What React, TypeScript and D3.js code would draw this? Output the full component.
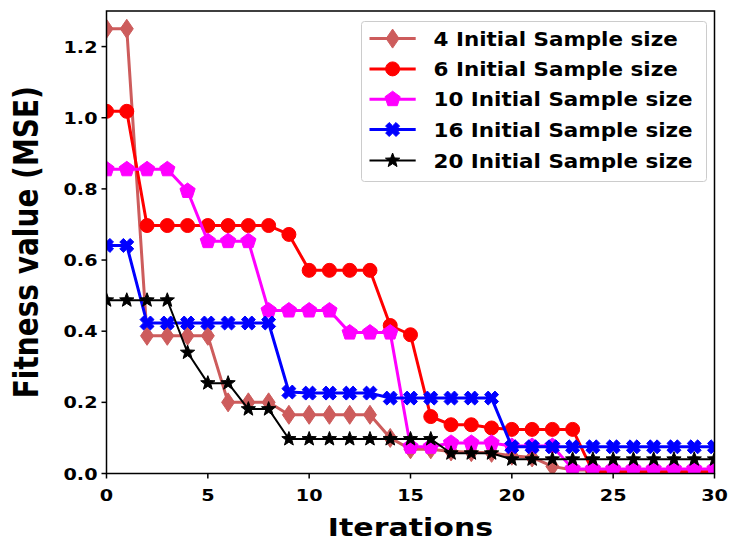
import React from "react";
import * as d3 from "d3";

const iterations = d3.range(0, 31);
const labels = [
  "4 Initial Sample size",
  "6 Initial Sample size",
  "10 Initial Sample size",
  "16 Initial Sample size",
  "20 Initial Sample size",
];
const s4 = [1.25, 1.25, 0.387, 0.387, 0.387, 0.387, 0.2, 0.2, 0.2, 0.165, 0.165, 0.165, 0.165, 0.165, 0.1, 0.068, 0.068, 0.062, 0.06, 0.058, 0.05, 0.045, 0.02, 0.01, 0.01, 0.01, 0.01, 0.01, 0.01, 0.01, 0.01];
const s6 = [1.018, 1.018, 0.697, 0.697, 0.697, 0.697, 0.697, 0.697, 0.697, 0.672, 0.571, 0.571, 0.571, 0.571, 0.416, 0.39, 0.16, 0.137, 0.137, 0.128, 0.124, 0.124, 0.124, 0.124, 0.005, 0.005, 0.005, 0.005, 0.005, 0.005, 0.005];
const s10 = [0.855, 0.855, 0.855, 0.855, 0.794, 0.653, 0.653, 0.653, 0.458, 0.458, 0.458, 0.458, 0.396, 0.396, 0.396, 0.075, 0.075, 0.086, 0.086, 0.086, 0.077, 0.077, 0.077, 0.013, 0.013, 0.013, 0.013, 0.013, 0.013, 0.013, 0.013];
const s16 = [0.641, 0.641, 0.423, 0.423, 0.423, 0.423, 0.423, 0.423, 0.423, 0.229, 0.226, 0.226, 0.226, 0.226, 0.212, 0.212, 0.212, 0.212, 0.212, 0.212, 0.075, 0.075, 0.075, 0.075, 0.075, 0.075, 0.075, 0.075, 0.075, 0.075, 0.075];
const s20 = [0.487, 0.487, 0.487, 0.487, 0.34, 0.254, 0.254, 0.181, 0.181, 0.097, 0.097, 0.097, 0.097, 0.097, 0.097, 0.097, 0.097, 0.057, 0.057, 0.057, 0.04, 0.04, 0.04, 0.04, 0.04, 0.04, 0.04, 0.04, 0.04, 0.04, 0.04];
const xTicks = [0, 5, 10, 15, 20, 25, 30];
const yTicks = [0.0, 0.2, 0.4, 0.6, 0.8, 1.0, 1.2];

const seriesValues = [s4, s6, s10, s16, s20];
const colors = ["#CD5C5C", "#FF0000", "#FF00FF", "#0000FF", "#000000"];
const markerKinds = ["thin_diamond", "circle", "pentagon", "xfilled", "star"];
const lineWidths = [3, 3, 3, 3, 2];

const W = 730;
const H = 546;
const left = 106.5;
const right = 714.5;
const top = 11;
const bottom = 473.5;
const SX = 1.2;
const FONT = "'DejaVu Sans', sans-serif";

function markerPath(kind: string, s: number): string {
  if (kind === "circle") {
    return d3.arc()({ innerRadius: 0, outerRadius: 7 * s, startAngle: 0, endAngle: Math.PI * 2 }) as string;
  }
  if (kind === "thin_diamond") {
    const h = 9.5 * s, w = 6.5 * s;
    return `M0,${-h}L${w},0L0,${h}L${-w},0Z`;
  }
  if (kind === "pentagon") {
    const r = 8 * s;
    const pts = d3.range(5).map((i) => {
      const a = -Math.PI / 2 + (i * 2 * Math.PI) / 5;
      return [r * Math.cos(a), r * Math.sin(a)];
    });
    return "M" + pts.map((p) => p.join(",")).join("L") + "Z";
  }
  if (kind === "xfilled") {
    const r = 7 * s, t = 3.6 * s;
    const base = [
      [0, -t], [r - t, -r], [r, -r + t], [t, 0], [r, r - t], [r - t, r], [0, t], [-r + t, r], [-r, r - t], [-t, 0], [-r, -r + t], [-r + t, -r],
    ];
    return "M" + base.map((p) => p.join(",")).join("L") + "Z";
  }
  const ro = 7.5 * s, ri = ro * 0.42;
  const pts = d3.range(10).map((i) => {
    const a = -Math.PI / 2 + (i * Math.PI) / 5;
    const r = i % 2 === 0 ? ro : ri;
    return [r * Math.cos(a), r * Math.sin(a)];
  });
  return "M" + pts.map((p) => p.join(",")).join("L") + "Z";
}

export default function App() {
  const x = d3.scaleLinear().domain([0, 30]).range([left, right]);
  const y = d3.scaleLinear().domain([0, 1.3]).range([bottom, top]);
  const line = d3
    .line<number>()
    .x((_, i) => x(iterations[i]))
    .y((d) => y(d));

  const legX = 361.5, legY = 21.5, legW = 345, legH = 160;
  const entryY = [38.6, 68.9, 99.2, 129.5, 160.5];

  return (
    <div style={{ position: "absolute", left: 0, top: 0, width: W, height: H, background: "#fff" }}>
      <svg width={W} height={H} style={{ display: "block" }}>
        <rect width={W} height={H} fill="#fff" />
        <defs>
          <clipPath id="plotClip">
            <rect x={left} y={top} width={right - left} height={bottom - top} />
          </clipPath>
        </defs>
        <g clipPath="url(#plotClip)">
          {seriesValues.map((vals, si) => (
            <g key={si}>
              <path d={line(vals) as string} fill="none" stroke={colors[si]} strokeWidth={lineWidths[si]} strokeLinejoin="round" />
              {vals.map((v, i) => (
                <path
                  key={i}
                  d={markerPath(markerKinds[si], 1)}
                  transform={`translate(${x(iterations[i])},${y(v)})`}
                  fill={colors[si]}
                  stroke={colors[si]}
                  strokeWidth={1}
                  strokeLinejoin="round"
                />
              ))}
            </g>
          ))}
        </g>
        <rect x={left} y={top} width={right - left} height={bottom - top} fill="none" stroke="#000" strokeWidth={1.5} />
        {xTicks.map((t) => (
          <g key={"x" + t}>
            <line x1={x(t)} x2={x(t)} y1={bottom} y2={bottom + 5} stroke="#000" strokeWidth={1.5} />
            <text
              transform={`translate(${x(t)},${bottom + 27}) scale(${SX},1)`}
              textAnchor="middle"
              fontFamily={FONT}
              fontWeight="bold"
              fontSize={16}
              fill="#000"
            >
              {t}
            </text>
          </g>
        ))}
        {yTicks.map((t) => (
          <g key={"y" + t}>
            <line x1={left - 5} x2={left} y1={y(t)} y2={y(t)} stroke="#000" strokeWidth={1.5} />
            <text
              transform={`translate(${left - 9},${y(t) + 6}) scale(${SX},1)`}
              textAnchor="end"
              fontFamily={FONT}
              fontWeight="bold"
              fontSize={16}
              fill="#000"
            >
              {t.toFixed(1)}
            </text>
          </g>
        ))}
        <text
          transform={`translate(${(left + right) / 2},536) scale(${SX},1)`}
          textAnchor="middle"
          fontFamily={FONT}
          fontWeight="bold"
          fontSize={25}
          fill="#000"
        >
          Iterations
        </text>
        <text
          transform={`translate(38,${(top + bottom) / 2}) scale(${SX},1) rotate(-90)`}
          textAnchor="middle"
          fontFamily={FONT}
          fontWeight="bold"
          fontSize={28}
          fill="#000"
        >
          Fitness value (MSE)
        </text>
        <rect x={legX} y={legY} width={legW} height={legH} rx={3} fill="#fff" fillOpacity={0.8} stroke="#cccccc" strokeWidth={1} />
        {labels.map((lab, i) => (
          <g key={lab}>
            <line x1={369.5} x2={415.7} y1={entryY[i]} y2={entryY[i]} stroke={colors[i]} strokeWidth={lineWidths[i]} />
            <path
              d={markerPath(markerKinds[i], 1)}
              transform={`translate(${(369.5 + 415.7) / 2},${entryY[i]})`}
              fill={colors[i]}
              stroke={colors[i]}
              strokeWidth={1}
              strokeLinejoin="round"
            />
            <text
              transform={`translate(433.5,${entryY[i] + 7}) scale(1.13,1)`}
              fontFamily={FONT}
              fontWeight="bold"
              fontSize={19}
              fill="#000"
            >
              {lab}
            </text>
          </g>
        ))}
      </svg>
    </div>
  );
}
